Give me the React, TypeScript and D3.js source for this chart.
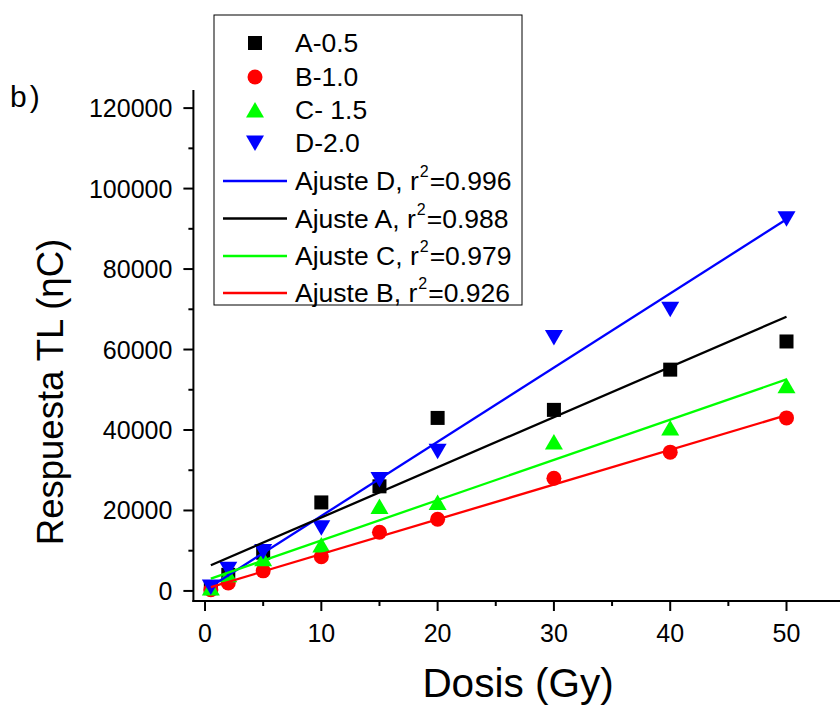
import React from "react";
import * as d3 from "d3";

// Dose (Gy) and TL response (nC) for four samples
const doses = [0.5, 2, 5, 10, 15, 20, 30, 40, 50];
const seriesA = [700, 4000, 9500, 22000, 26000, 43000, 45000, 55000, 62000];
const seriesB = [300, 2000, 5000, 8500, 14600, 17800, 28000, 34500, 43000];
const seriesC = [700, 4000, 8000, 11400, 21000, 22000, 37000, 40500, 51000];
const seriesD = [1000, 5400, 9800, 15700, 27700, 34700, 63000, 70000, 92500];

const seriesNames = ["A-0.5", "B-1.0", "C- 1.5", "D-2.0"];
const fitNames = ["Ajuste D", "Ajuste A", "Ajuste C", "Ajuste B"];
const fitR2 = ["0.996", "0.988", "0.979", "0.926"];

const yTicks = [0, 20000, 40000, 60000, 80000, 100000, 120000];
const yMinor = [10000, 30000, 50000, 70000, 90000, 110000];
const xTicks = [0, 10, 20, 30, 40, 50];
const xMinor = [5, 15, 25, 35, 45];

const W = 840;
const H = 706;
const FONT = "'Liberation Sans', Arial, Helvetica, sans-serif";

const x = d3.scaleLinear().domain([-1, 54.6]).range([193.4, 840]);
const y = d3.scaleLinear().domain([-2500, 124500]).range([601, 90]);

type Shape = "square" | "circle" | "up" | "down";

function linFit(xs: number[], ys: number[]) {
  const mx = d3.mean(xs)!;
  const my = d3.mean(ys)!;
  let sxy = 0;
  let sxx = 0;
  xs.forEach((xv, i) => {
    sxy += (xv - mx) * (ys[i] - my);
    sxx += (xv - mx) * (xv - mx);
  });
  const slope = sxy / sxx;
  return { slope, intercept: my - slope * mx };
}

function Marker({ shape, cx, cy, color }: { shape: Shape; cx: number; cy: number; color: string }) {
  if (shape === "square") return <rect x={cx - 7} y={cy - 7} width={14} height={14} fill={color} />;
  if (shape === "circle") return <circle cx={cx} cy={cy} r={7.5} fill={color} />;
  if (shape === "up")
    return <path d={`M${cx},${cy - 8}L${cx + 9},${cy + 7.5}L${cx - 9},${cy + 7.5}Z`} fill={color} />;
  return <path d={`M${cx},${cy + 8}L${cx + 9},${cy - 7.5}L${cx - 9},${cy - 7.5}Z`} fill={color} />;
}

const series: { key: string; values: number[]; color: string; shape: Shape }[] = [
  { key: "A", values: seriesA, color: "#000000", shape: "square" },
  { key: "B", values: seriesB, color: "#ff0000", shape: "circle" },
  { key: "C", values: seriesC, color: "#00ff00", shape: "up" },
  { key: "D", values: seriesD, color: "#0000ff", shape: "down" },
];

const fitOrder = ["D", "A", "C", "B"];

export default function App() {
  const line = d3
    .line<[number, number]>()
    .x((d) => x(d[0]))
    .y((d) => y(d[1]));
  const x0 = d3.min(doses)!;
  const x1 = d3.max(doses)!;

  return (
    <svg
      width={W}
      height={H}
      style={{ position: "absolute", left: 0, top: 0, background: "#fff", fontFamily: FONT }}
    >
      <rect width={W} height={H} fill="#fff" />

      {/* scatter points */}
      {series.map((s) =>
        s.values.map((v, i) => (
          <Marker key={s.key + i} shape={s.shape} cx={x(doses[i])} cy={y(v)} color={s.color} />
        ))
      )}

      {/* linear fits */}
      {fitOrder.map((k) => {
        const s = series.find((d) => d.key === k)!;
        const f = linFit(doses, s.values);
        const pts: [number, number][] = [
          [x0, f.intercept + f.slope * x0],
          [x1, f.intercept + f.slope * x1],
        ];
        return <path key={"fit" + k} d={line(pts)!} stroke={s.color} strokeWidth={2.3} fill="none" />;
      })}

      {/* axes */}
      <g stroke="#000" strokeWidth={2}>
        <line x1={x.range()[0]} x2={x.range()[0]} y1={y.range()[0] + 1} y2={y.range()[1]} />
        <line x1={x.range()[0] - 1} x2={x.range()[1]} y1={y.range()[0]} y2={y.range()[0]} />
        {yTicks.map((t) => (
          <line key={"yt" + t} x1={x.range()[0] - 10} x2={x.range()[0]} y1={y(t)} y2={y(t)} />
        ))}
        {yMinor.map((t) => (
          <line key={"ym" + t} x1={x.range()[0] - 5} x2={x.range()[0]} y1={y(t)} y2={y(t)} />
        ))}
        {xTicks.map((t) => (
          <line key={"xt" + t} x1={x(t)} x2={x(t)} y1={y.range()[0]} y2={y.range()[0] + 10} />
        ))}
        {xMinor.map((t) => (
          <line key={"xm" + t} x1={x(t)} x2={x(t)} y1={y.range()[0]} y2={y.range()[0] + 5} />
        ))}
      </g>
      <g fontSize={25} fill="#000">
        {yTicks.map((t) => (
          <text key={"yl" + t} x={x.range()[0] - 21} y={y(t) + 9} textAnchor="end">
            {t}
          </text>
        ))}
        {xTicks.map((t) => (
          <text key={"xl" + t} x={x(t)} y={642} textAnchor="middle">
            {t}
          </text>
        ))}
      </g>

      {/* axis titles */}
      <text x={518} y={697} fontSize={40.5} textAnchor="middle">
        Dosis (Gy)
      </text>
      <text transform="translate(63,392) rotate(-90)" fontSize={36.5} textAnchor="middle">
        Respuesta TL (ηC)
      </text>
      <text x={10} y={107} fontSize={30} letterSpacing={3}>
        b)
      </text>

      {/* legend */}
      <g>
        <rect x={214} y={15} width={308} height={290} fill="#fff" stroke="#000" strokeWidth={1} />
        {series.map((s, i) => {
          const base = [52, 86, 119, 152][i];
          return (
            <g key={"lg" + s.key}>
              <Marker shape={s.shape} cx={255} cy={base - 9} color={s.color} />
              <text x={295} y={base} fontSize={26.5}>
                {seriesNames[i]}
              </text>
            </g>
          );
        })}
        {fitOrder.map((k, i) => {
          const s = series.find((d) => d.key === k)!;
          const base = [190, 227.5, 265, 302][i];
          return (
            <g key={"lf" + k}>
              <line x1={223} x2={287} y1={base - 9} y2={base - 9} stroke={s.color} strokeWidth={2.3} />
              <text x={295} y={base} fontSize={26.5}>
                {fitNames[i]}, r
                <tspan fontSize={16} dx={1} dy={-13}>
                  2
                </tspan>
                <tspan dx={1} dy={13}>={fitR2[i]}</tspan>
              </text>
            </g>
          );
        })}
      </g>
    </svg>
  );
}
